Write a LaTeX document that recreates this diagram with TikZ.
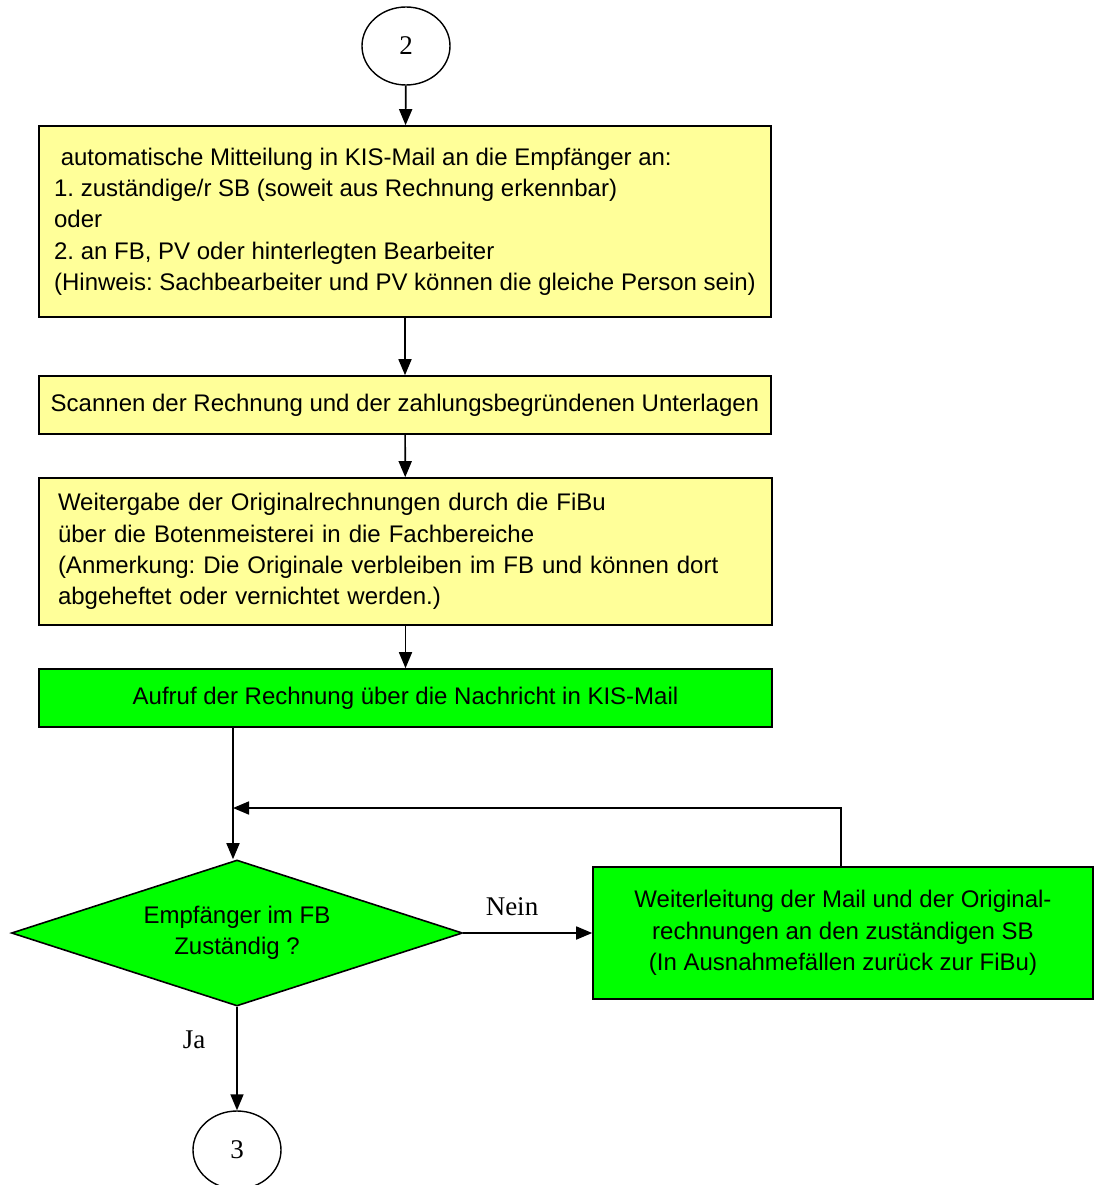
\documentclass[tikz,border=0pt]{standalone}
\usepackage{fontspec}
\setmainfont{Liberation Sans}
\newfontfamily\seriffont{Liberation Serif}
\usetikzlibrary{shapes.geometric,arrows.meta}
\definecolor{boxyellow}{HTML}{FFFF99}
\definecolor{boxgreen}{HTML}{00FF00}
\frenchspacing
\begin{document}
\frenchspacing
\begin{tikzpicture}[x=1pt,y=-1pt,
  every node/.style={font=\frenchspacing\fontsize{24}{31.3}\selectfont},
  box/.style={draw, line width=1.6pt, inner sep=0pt},
  ybox/.style={box, fill=boxyellow},
  gbox/.style={box, fill=boxgreen},
  conn/.style={draw, ellipse, line width=1.4pt, minimum width=88pt, minimum height=78pt, inner sep=0pt, font=\seriffont\fontsize{27}{30}\selectfont},
  arr/.style={line width=1.7pt, -{Triangle[length=16pt,width=13pt]}},
  lbl/.style={font=\seriffont\fontsize{27}{30}\selectfont, inner sep=0pt}
]
\useasboundingbox (0,0) rectangle (1095,1185);

\node[conn] (c2) at (406,46) {2};

\node[ybox, minimum width=732pt, minimum height=191pt, align=left] (b1) at (405,221.5)
 {\ automatische Mitteilung in KIS-Mail an die Empfänger an:\\
  1. zuständige/r SB (soweit aus Rechnung erkennbar)\\
  oder\\
  2. an FB, PV oder hinterlegten Bearbeiter\\
  (Hinweis: Sachbearbeiter und PV können die gleiche Person sein)};

\node[ybox, minimum width=732pt, minimum height=58pt] (b2) at (405,405)
 {Scannen der Rechnung und der zahlungsbegründenen Unterlagen};

\node[ybox, minimum width=733pt, minimum height=147pt, text width=695pt, align=left] (b3) at (405.5,551.5)
 {Weitergabe der Originalrechnungen durch die FiBu\\
  über die Botenmeisterei in die Fachbereiche\\
  (Anmerkung: Die Originale verbleiben im FB und können dort\\
  abgeheftet oder vernichtet werden.)};

\node[gbox, minimum width=733pt, minimum height=58pt] (b4) at (405.5,698)
 {Aufruf der Rechnung über die Nachricht in KIS-Mail};

\node[draw, diamond, fill=boxgreen, line width=1.6pt, inner sep=0pt, aspect=3.09,
      minimum width=451pt, minimum height=146pt, align=center] (d) at (237,933)
 {Empfänger im FB\\Zuständig ?};

\node[gbox, minimum width=500pt, minimum height=132pt, align=center] (b5) at (843,933)
 {Weiterleitung der Mail und der Original-\\rechnungen an den zuständigen SB\\(In Ausnahmefällen zurück zur FiBu)};

\node[conn] (c3) at (237,1150) {3};

\node[lbl] (nein) at (512,907) {Nein};
\node[lbl] (ja) at (194,1040) {Ja};

\coordinate (fb) at (233,808);

\draw[arr] (c2) -- (b1);
\draw[arr] (b1) -- (b2);
\draw[arr] (b2) -- (b3);
\draw[arr] (b3) -- (b4);
\draw[arr] (b4.south -| fb) -- (fb |- d.north);
\draw[arr] (b5.north -| 841,0) |- (fb);
\draw[arr] (d.east) -- (b5.west);
\draw[arr] (d.south) -- (c3.north);
\end{tikzpicture}
\end{document}
